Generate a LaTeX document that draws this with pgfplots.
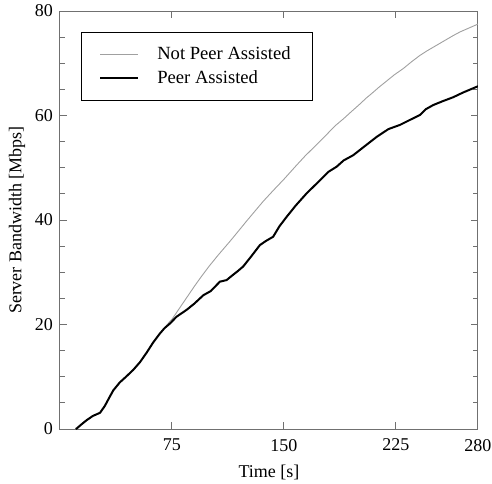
\documentclass[border=0pt]{standalone}
\usepackage{fontspec}
\setmainfont{Liberation Serif}
\usepackage{pgfplots}
\pgfplotsset{compat=1.18}
\definecolor{cNot}{HTML}{A0A0A0}
\definecolor{cAx}{HTML}{707070}

\begin{document}
\begin{tikzpicture}
\useasboundingbox (-30pt,-27pt) rectangle (216pt,214.5pt);
\begin{axis}[
  scale only axis, width=209pt, height=209pt,
  at={(0,0)}, anchor=south west,
  font=\fontsize{9}{11}\selectfont,
  /pgf/number format/assume math mode=true,
  xmin=0, xmax=280, ymin=0, ymax=80,
  xtick={75,150,225,280},
  ytick={0,20,40,60,80}, minor y tick num=3,
  tick align=inside,
  major tick length=3.5pt, minor tick length=2.5pt,
  axis line style={draw=cAx, line width=0.5pt},
  tick style={draw=cAx, line width=0.5pt},
  xticklabel style={yshift=-1.5pt},
  xlabel={Time [s]}, ylabel={Server Bandwidth [Mbps]},
  xlabel style={yshift=0pt},
  ylabel style={yshift=-2pt},
  legend style={at={(0.05,0.95)}, anchor=north west, draw=black,
    line width=0.4pt, inner xsep=9pt, inner ysep=5pt,
    font=\fontsize{9.3}{10.5}\selectfont,
    /tikz/every odd column/.append style={column sep=7pt}},
  legend cell align=left,
  legend image code/.code={\draw[#1] (0pt,0pt) -- (19pt,0pt);},
]
\addplot[cNot, line width=0.45pt] coordinates {
(10.5,0) (11.2,0.1) (14,0.8) (17.9,1.7) (22,2.5) (26.8,3.1) (30,4.4)
(33,6.0) (35.7,7.4) (40,8.9) (44.6,10.1) (49,11.3) (53.6,12.8) (58,14.6)
(62.5,16.6) (67,18.3) (70,19.3) (73,20.4) (75,21.0) (80,23.1) (85,25.2)
(90,27.3) (95,29.3) (100,31.2) (106,33.3) (113.8,35.9) (119,37.7)
(125,39.8) (130,41.5) (136.2,43.6) (143,45.7) (150,47.8) (158.5,50.5)
(164,52.2) (170,53.9) (175,55.3) (180.8,57.0) (185,58.2) (190,59.4)
(195,60.7) (200.9,62.2) (205,63.3) (210,64.5) (214,65.5) (218.8,66.6)
(224,67.8) (230,69.0) (236,70.4) (241.1,71.5) (246,72.4) (252,73.4)
(258,74.4) (263.4,75.3) (268,76.0) (272,76.5) (276,77.0) (280,77.5)
};
\addlegendentry{Not Peer Assisted}
\addplot[black, line width=1pt] coordinates {
(10.5,0) (11.2,0.1) (14,0.8) (17.9,1.7) (22,2.5) (26.8,3.1) (30,4.4)
(33,6.0) (35.7,7.4) (40,8.9) (44.6,10.1) (49,11.3) (53.6,12.8) (58,14.6)
(62.5,16.6) (67,18.3) (70,19.3) (73.7,20.2) (78.1,21.5) (84.8,22.8)
(90,24.0) (96,25.6) (101,26.4) (107.1,28.2) (111.6,28.5) (115,29.3)
(119,30.2) (122.7,31.1) (128,33.0) (133.9,35.2) (138,36.0) (142.8,36.8)
(147,38.8) (151.8,40.6) (158,42.8) (165.2,45.1) (172,47.0) (179.7,49.2)
(185.3,50.2) (190,51.4) (196.4,52.4) (204,54.1) (212.1,55.9) (220,57.4)
(227.7,58.2) (234,59.1) (241.1,60.1) (245,61.2) (250,62.0) (256,62.7)
(263.4,63.5) (270,64.4) (275,65.0) (280,65.6)
};
\addlegendentry{Peer Assisted}
\end{axis}
\end{tikzpicture}
\end{document}
